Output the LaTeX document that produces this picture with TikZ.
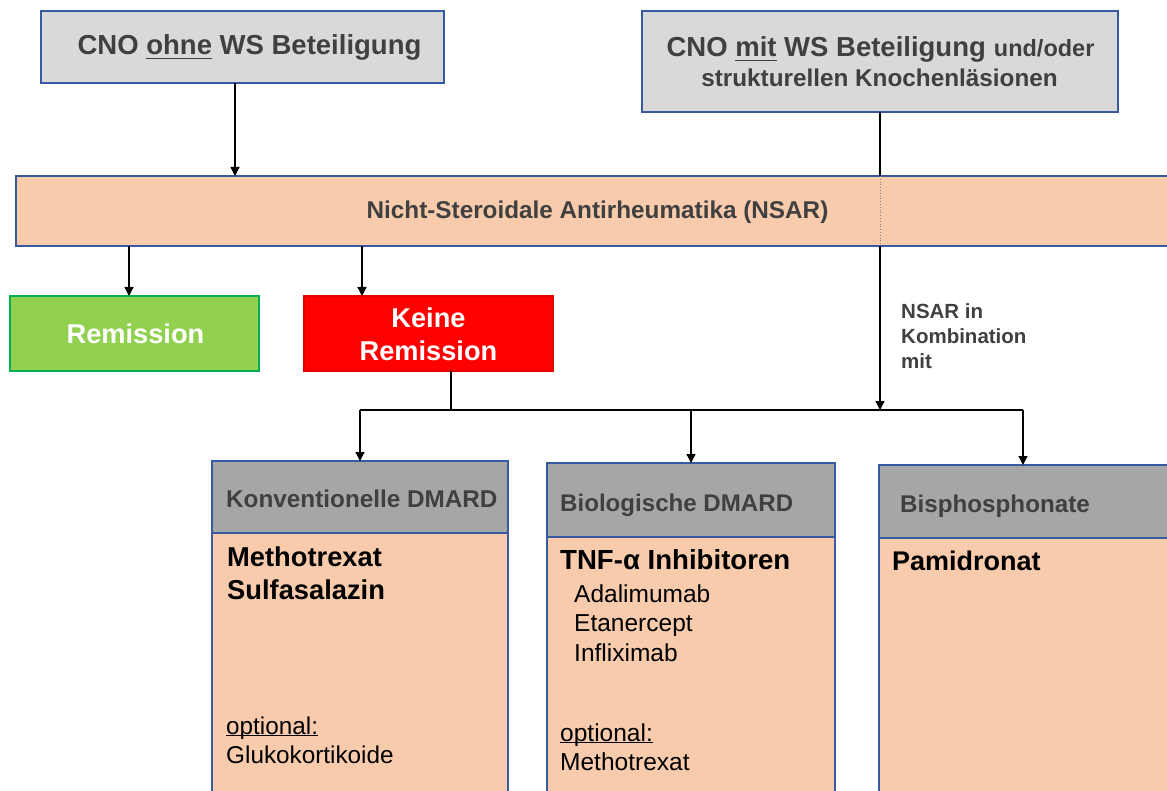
\documentclass[tikz,border=0pt]{standalone}
\usepackage{fontspec}
\setmainfont{Liberation Sans}
\usetikzlibrary{arrows.meta}
\definecolor{bord}{RGB}{55,90,160}
\definecolor{ttl}{HTML}{D9D9D9}
\definecolor{hdr}{HTML}{A6A6A6}
\definecolor{peach}{HTML}{F8CBAD}
\definecolor{grn}{HTML}{92D050}
\definecolor{grnb}{HTML}{00B050}
\definecolor{redb}{HTML}{E00000}
\definecolor{dtxt}{HTML}{404040}
\newsavebox\ulbox
\newcommand\myul[2][0.15em]{\sbox\ulbox{#2}\rlap{\rule[-#1]{\wd\ulbox}{0.055em}}\usebox\ulbox}
\newcommand\fs[1]{\fontsize{#1}{#1}\selectfont}
\begin{document}
\begin{tikzpicture}[x=1pt,y=-1pt,
 box/.style={draw=bord, line width=1.3pt, rectangle, inner sep=0pt, outer sep=0pt, anchor=north west},
 txt/.style={inner sep=0pt, anchor=base},
 txtl/.style={inner sep=0pt, anchor=base west},
 arr/.style={line width=1.3pt, -{Triangle[length=9pt,width=9pt]}},
 ln/.style={line width=1.3pt}]
\useasboundingbox (0,0) rectangle (1167,791);
% top boxes
\node[box, fill=ttl, minimum width=403pt, minimum height=72pt] (b1) at (41,11) {};
\node[box, fill=ttl, minimum width=476pt, minimum height=101pt] (b2) at (642,11) {};
\node[txt, text=dtxt, font=\bfseries\fs{27.5}] (t1) at (249.5,55) {CNO \myul{ohne} WS Beteiligung};
\node[txt, text=dtxt, font=\bfseries] (t2a) at (880.5,57) {\fs{27.5}CNO \myul{mit} WS Beteiligung\hspace{8pt}\fs{23.5}und/oder};
\node[txt, text=dtxt, font=\bfseries\fs{24.3}] (t2b) at (879.5,87) {strukturellen Knochenläsionen};
% NSAR bar
\node[box, fill=peach, minimum width=1160pt, minimum height=70pt] (nsar) at (16,176) {};
\node[txt, text=dtxt, font=\bfseries\fs{24.3}] (tn) at (597.5,219) {Nicht-Steroidale Antirheumatika (NSAR)};
% remission boxes
\node[box, fill=grn, draw=grnb, minimum width=249pt, minimum height=75pt] (rem) at (10,296) {};
\node[txt, text=white, font=\bfseries\fs{27.2}] (tr) at (135.5,344) {Remission};
\node[box, fill=red, draw=redb, minimum width=249pt, minimum height=75pt] (kr) at (304,296) {};
\node[txt, text=white, font=\bfseries\fs{27.2}] (tk1) at (428.5,328) {Keine};
\node[txt, text=white, font=\bfseries\fs{27.2}] (tk2) at (428.5,361) {Remission};
% label
\node[txtl, text=dtxt, font=\bfseries\fs{20.5}] (l1) at (901,319) {NSAR in};
\node[txtl, text=dtxt, font=\bfseries\fs{20.5}] (l2) at (901,344) {Kombination};
\node[txtl, text=dtxt, font=\bfseries\fs{20.5}] (l3) at (901,369) {mit};
% bottom boxes
\node[box, fill=peach, minimum width=296pt, minimum height=270pt] (kb) at (212,533) {};
\node[box, fill=hdr, minimum width=296pt, minimum height=72pt] (kh) at (212,461) {};
\node[box, fill=peach, minimum width=288pt, minimum height=270pt] (bb) at (547,537) {};
\node[box, fill=hdr, minimum width=288pt, minimum height=74pt] (bh) at (547,463) {};
\node[box, fill=peach, minimum width=300pt, minimum height=270pt] (sb) at (879,538) {};
\node[box, fill=hdr, minimum width=300pt, minimum height=73pt] (sh) at (879,465) {};
% texts in bottom boxes
\node[txtl, text=dtxt, font=\bfseries\fs{24.3}] (khT) at (226,507) {Konventionelle DMARD};
\node[txtl, font=\bfseries\fs{27.3}] (m1) at (227,566) {Methotrexat};
\node[txtl, font=\bfseries\fs{27.3}] (m2) at (227,599) {Sulfasalazin};
\node[txtl, font=\fs{24.3}] (o1) at (226,734) {\myul[0.1em]{optional:}};
\node[txtl, font=\fs{24.3}] (g1) at (226,763) {Glukokortikoide};
\node[txtl, text=dtxt, font=\bfseries\fs{24.1}] (bhT) at (560,511) {Biologische DMARD};
\node[txtl, font=\bfseries\fs{27.6}] (tnf) at (560,569) {TNF-α Inhibitoren};
\node[txtl, font=\fs{24.5}] (ada) at (574,602) {Adalimumab};
\node[txtl, font=\fs{24.5}] (eta) at (574,631) {Etanercept};
\node[txtl, font=\fs{24.5}] (inf) at (574,661) {Infliximab};
\node[txtl, font=\fs{24.5}] (o2) at (560,741) {\myul[0.1em]{optional:}};
\node[txtl, font=\fs{24.5}] (mtx) at (560,770) {Methotrexat};
\node[txtl, text=dtxt, font=\bfseries\fs{24.2}] (shT) at (900,512) {Bisphosphonate};
\node[txtl, font=\bfseries\fs{27}] (pam) at (892,570) {Pamidronat};
% connectors
\coordinate (j0) at (451,410);
\coordinate (j1) at (880,410);
\coordinate (r3) at (1023,410);
\draw[arr] (b1.south -| 235,0) -- (nsar.north -| 235,0);
\draw[ln] (b2.south) -- (nsar.north -| b2.south);
\draw[gray, dotted, line width=0.8pt] (nsar.north -| b2.south) -- (nsar.south -| b2.south);
\draw[arr] (nsar.south -| b2.south) -- (j1);
\draw[arr] (nsar.south -| 129,0) -- (rem.north -| 129,0);
\draw[arr] (nsar.south -| 362,0) -- (kr.north -| 362,0);
\draw[ln] (kr.south -| j0) -- (j0);
\draw[ln] (kh.north |- j1) -- (r3);
\draw[arr] (kh.north |- j1) -- (kh.north);
\draw[arr] (bh.north |- j1) -- (bh.north);
\draw[arr] (r3) -- (sh.north -| r3);
\end{tikzpicture}
\end{document}
